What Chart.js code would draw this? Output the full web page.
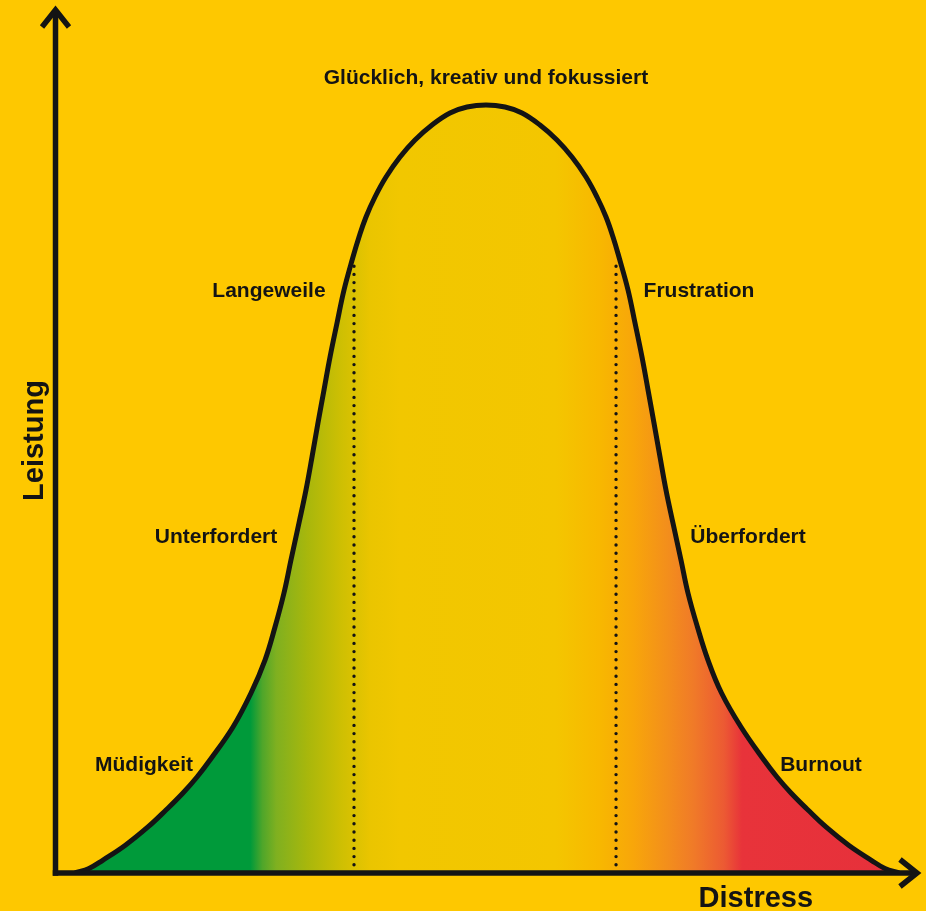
<!DOCTYPE html>
<html>
<head>
<meta charset="utf-8">
<script src="https://cdn.jsdelivr.net/npm/chart.js@4/dist/chart.umd.min.js"></script>
<style>
  html, body { margin: 0; padding: 0; background: #FEC800; }
  #wrap { width: 926px; height: 911px; position: relative; }
</style>
</head>
<body>
<div id="wrap"><canvas id="c" width="926" height="911"></canvas></div>
<script>
// ---- data (Distress on x, Leistung on y; both 0..100) ----
const curveX = [2.26, 3.88, 5.51, 8.06, 10.72, 12.81, 14.78, 16.41, 17.91, 20.58, 22.67, 24.29, 25.45, 26.49, 27.30, 28.23, 29.04,
                29.74, 30.43, 31.13, 31.83, 32.64, 33.45, 34.49, 35.19, 36.00, 37.04, 38.32, 39.94, 41.68, 43.65, 45.74, 47.71,
                49.91,
                52.12, 54.09, 56.17, 58.14, 59.88, 61.51, 62.78, 63.83, 64.64, 65.33, 66.38, 67.19, 68.00, 68.70, 69.39, 70.09,
                70.78, 71.59, 72.52, 73.33, 74.43, 75.65, 77.22, 79.48, 82.14, 83.65, 85.28, 87.25, 89.33, 92.00, 94.55, 96.17, 97.80];
const curveY = [0, 0.52, 1.50, 3.18, 5.32, 7.28, 9.25, 11.10, 13.06, 16.88, 20.81, 24.62, 28.44, 32.37, 36.18, 40.46, 44.28,
                48.09, 52.02, 55.84, 59.65, 63.58, 67.40, 71.21, 73.53, 75.84, 78.15, 80.46, 82.77, 84.74, 86.47, 87.86, 88.55,
                88.79,
                88.55, 87.86, 86.47, 84.74, 82.77, 80.46, 78.15, 75.84, 73.53, 71.21, 67.40, 63.58, 59.65, 55.84, 52.02, 48.09,
                44.28, 40.46, 36.18, 32.37, 28.44, 24.62, 20.81, 16.88, 13.06, 11.10, 9.25, 7.28, 5.32, 3.18, 1.50, 0.52, 0];

const dividerX = [34.61, 64.99];
const dividerTopY = [70.9, 70.9];

const zoneLabels = ["Glücklich, kreativ und fokussiert", "Langeweile", "Frustration", "Unterfordert", "Überfordert", "Müdigkeit", "Burnout"];
const zoneLabelX = [49.91, 24.75, 74.61, 18.61, 80.29, 10.26, 88.75];
const zoneLabelY = [91.2, 66.6, 66.6, 38.2, 38.2, 11.8, 11.8];

const xAxisTitle = "Distress";
const yAxisTitle = "Leistung";

// ---- styles ----
const BG = '#FEC800';
const INK = '#141414';
const gradientStops = [ // [x value, colour]
  [0, '#009A3A'], [22.6, '#009A3A'], [24.0, '#4FA62A'], [25.6, '#7FB020'], [29.2, '#A8B70C'],
  [33.0, '#CDBF03'], [36.5, '#EAC500'], [40, '#F1C700'], [58.0, '#F4C600'], [63.0, '#F8B800'],
  [67.0, '#F8A60A'], [71.0, '#F38E1C'], [74.0, '#F07A28'], [77.5, '#EC5A33'], [79.6, '#E8333A'], [100, '#E6303B']
];

const curve = curveX.map((x, i) => ({ x, y: curveY[i] }));

function makeGradient(ctx) {
  const chart = ctx.chart;
  const ca = chart.chartArea;
  if (!ca) return '#F1C600';
  const xs = chart.scales.x;
  const g = chart.ctx.createLinearGradient(xs.getPixelForValue(0), 0, xs.getPixelForValue(100), 0);
  gradientStops.forEach(([v, c]) => g.addColorStop(v / 100, c));
  return g;
}

const bgPlugin = {
  id: 'bg',
  beforeDraw(chart) {
    const c = chart.ctx;
    c.save(); c.fillStyle = BG; c.fillRect(0, 0, chart.width, chart.height); c.restore();
  }
};

const axesPlugin = {
  id: 'axesArrows',
  afterDatasetsDraw(chart) {
    const c = chart.ctx, xs = chart.scales.x, ys = chart.scales.y;
    const x0 = xs.getPixelForValue(0), y0 = ys.getPixelForValue(0);
    const xEnd = xs.getPixelForValue(100) - 1, yEnd = ys.getPixelForValue(100) + 2;
    c.save();
    c.strokeStyle = INK; c.lineWidth = 5.5; c.lineCap = 'butt'; c.lineJoin = 'miter';
    c.beginPath(); c.moveTo(x0, y0 + 2.75); c.lineTo(x0, yEnd + 2); c.stroke();
    c.beginPath(); c.moveTo(x0 - 13.5, yEnd + 17); c.lineTo(x0, yEnd); c.lineTo(x0 + 13.5, yEnd + 17); c.stroke();
    c.beginPath(); c.moveTo(x0 - 2.75, y0); c.lineTo(xEnd - 2, y0); c.stroke();
    c.beginPath(); c.moveTo(xEnd - 17, y0 - 13.5); c.lineTo(xEnd, y0); c.lineTo(xEnd - 17, y0 + 13.5); c.stroke();
    c.restore();
  },
  afterDraw(chart) {
    const c = chart.ctx, xs = chart.scales.x, ys = chart.scales.y;
    c.save();
    c.fillStyle = INK;
    c.textAlign = 'center'; c.textBaseline = 'alphabetic';
    c.font = 'bold 21px "Liberation Sans", Arial, sans-serif';
    zoneLabels.forEach((t, i) => {
      c.fillText(t, xs.getPixelForValue(zoneLabelX[i]), ys.getPixelForValue(zoneLabelY[i]));
    });
    c.font = 'bold 29px "Liberation Sans", Arial, sans-serif';
    c.fillText(xAxisTitle, xs.getPixelForValue(81.2), ys.getPixelForValue(0) + 34);
    c.translate(xs.getPixelForValue(0) - 12.5, ys.getPixelForValue(50));
    c.rotate(-Math.PI / 2);
    c.fillText(yAxisTitle, 0, 0);
    c.restore();
  }
};

const dividerSets = dividerX.map((x, i) => ({
  data: [{ x, y: 0 }, { x, y: dividerTopY[i] }],
  borderColor: INK, borderWidth: 3.4, borderDash: [0, 8.2], borderCapStyle: 'round',
  pointRadius: 0, fill: false, order: 0
}));

new Chart(document.getElementById('c'), {
  type: 'line',
  data: {
    datasets: [
      {
        data: curve, borderColor: INK, borderWidth: 5, pointRadius: 0,
        tension: 0.4, fill: 'origin',
        backgroundColor: makeGradient, order: 1
      },
      ...dividerSets
    ]
  },
  options: {
    responsive: false, animation: false,
    layout: { padding: { left: 55.5, right: 8, top: 8, bottom: 38 } },
    plugins: { legend: { display: false }, tooltip: { enabled: false } },
    scales: {
      x: { type: 'linear', min: 0, max: 100, display: false },
      y: { type: 'linear', min: 0, max: 100, display: false }
    }
  },
  plugins: [bgPlugin, axesPlugin]
});
</script>
</body>
</html>
